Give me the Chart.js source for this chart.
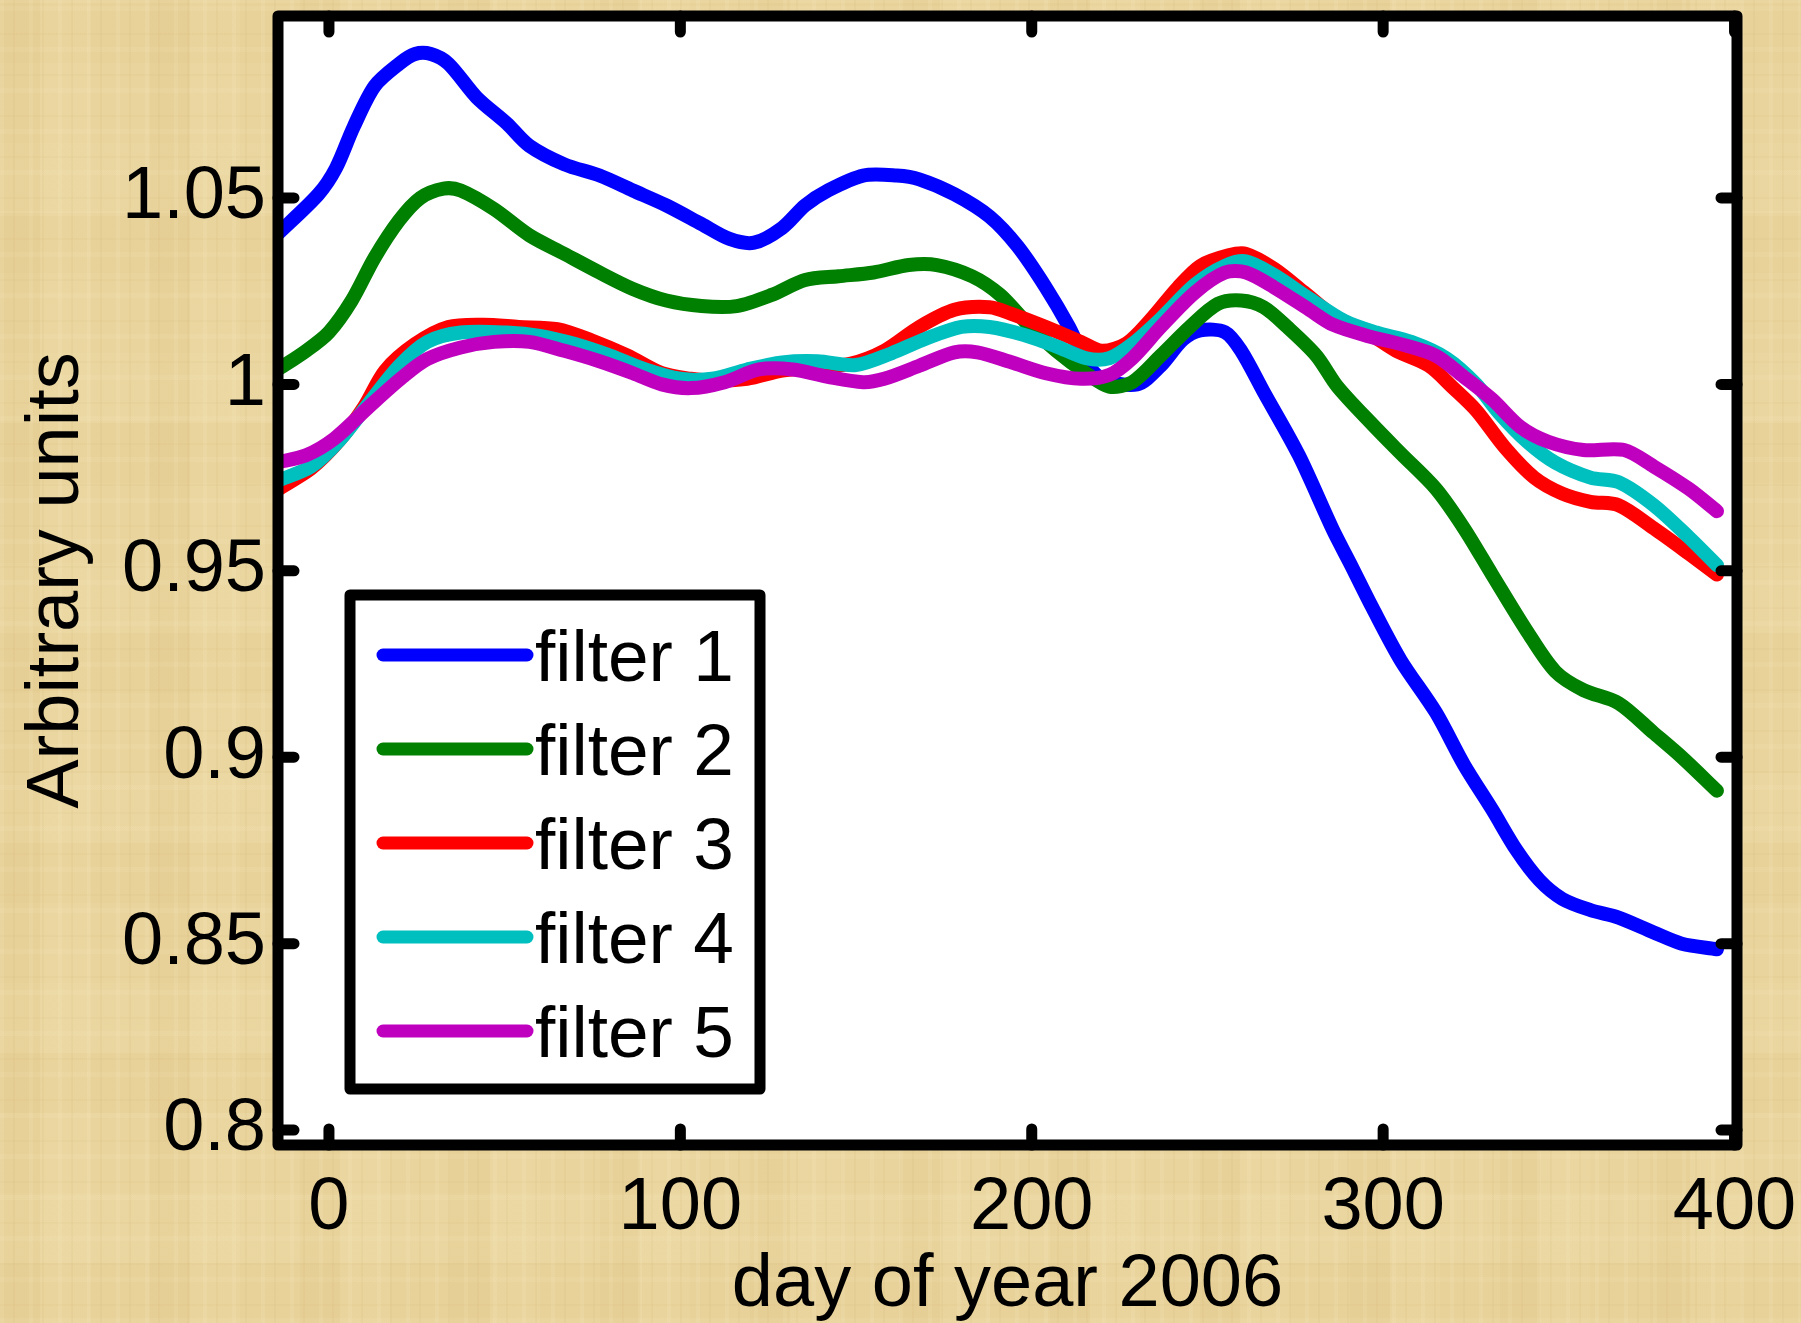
<!DOCTYPE html>
<html>
<head>
<meta charset="utf-8">
<script src="https://cdn.jsdelivr.net/npm/chart.js@4.4.1/dist/chart.umd.min.js"></script>
<style>
  html, body { margin: 0; padding: 0; }
  body {
    width: 1801px; height: 1323px; overflow: hidden;
    background-color: #E9D49D;
    background-image:
      repeating-linear-gradient(90deg, rgba(255,246,215,0.10) 0 4px, rgba(0,0,0,0) 4px 13px, rgba(170,130,50,0.05) 13px 15px, rgba(0,0,0,0) 15px 29px),
      repeating-linear-gradient(0deg, rgba(255,246,215,0.08) 0 5px, rgba(0,0,0,0) 5px 17px, rgba(170,130,50,0.04) 17px 19px, rgba(0,0,0,0) 19px 41px),
      repeating-linear-gradient(90deg, rgba(200,160,80,0.06) 0 40px, rgba(255,240,200,0.07) 40px 90px, rgba(0,0,0,0) 90px 150px),
      repeating-linear-gradient(0deg, rgba(210,170,90,0.05) 0 60px, rgba(255,240,200,0.06) 60px 130px, rgba(0,0,0,0) 130px 210px);
  }
  canvas { display: block; }
</style>
</head>
<body>
<canvas id="chart" width="1801" height="1323"></canvas>
<script>
// tick labels
const xTicks = [0, 100, 200, 300, 400];
const yTicks = [0.8, 0.85, 0.9, 0.95, 1, 1.05];

const seriesNames = ['filter 1', 'filter 2', 'filter 3', 'filter 4', 'filter 5'];
const seriesColors = ['#0000FF', '#008000', '#FF0000', '#00BFBF', '#BF00BF'];

// filter 1 (blue)
const filter1Days = [-15, -3, 2, 7, 13, 20, 24.5, 29, 34, 42, 50.6, 57, 67, 77, 86.5, 96, 106, 114, 121, 129, 135.5, 142, 152, 161.6, 168, 178, 188, 196, 204, 210.6, 215.5, 220, 230, 236.7, 243, 248, 255, 259.6, 266, 276, 285.7, 290.6, 297, 305, 315, 323, 331, 338, 344.5, 351, 359, 367, 377, 385, 395];
const filter1Values = [1.040, 1.051, 1.058, 1.069, 1.080, 1.086, 1.0886, 1.0886, 1.086, 1.077, 1.070, 1.064, 1.059, 1.056, 1.052, 1.048, 1.043, 1.039, 1.038, 1.042, 1.048, 1.052, 1.056, 1.056, 1.055, 1.051, 1.045, 1.037, 1.026, 1.0154, 1.006, 1.0015, 1.000, 1.005, 1.012, 1.0145, 1.014, 1.009, 0.998, 0.981, 0.961, 0.952, 0.940, 0.926, 0.912, 0.898, 0.886, 0.875, 0.867, 0.862, 0.859, 0.857, 0.853, 0.850, 0.8485];

// filter 2 (green)
const filter2Days = [-15, -6.5, 0, 6.5, 13, 20, 26, 32.6, 37.5, 47, 57, 67, 77, 86.5, 96, 106, 116, 126, 135.5, 145, 155, 165, 173, 183, 191, 199, 207, 215.5, 222, 228.6, 236.7, 245, 253, 259.6, 266, 272.7, 281, 287, 297, 305, 315, 323, 331, 341, 349, 357, 367, 377, 385, 395];
const filter2Values = [1.0037, 1.009, 1.014, 1.0225, 1.034, 1.044, 1.050, 1.0525, 1.052, 1.047, 1.040, 1.035, 1.030, 1.0256, 1.0225, 1.021, 1.021, 1.024, 1.028, 1.029, 1.030, 1.032, 1.032, 1.029, 1.024, 1.016, 1.009, 1.003, 0.9994, 1.0006, 1.0077, 1.0154, 1.0216, 1.0225, 1.0207, 1.0154, 1.0077, 0.9994, 0.9892, 0.9815, 0.972, 0.9614, 0.949, 0.9337, 0.923, 0.918, 0.9145, 0.9065, 0.900, 0.891];

// filter 3 (red)
const filter3Days = [-15, -5, 3, 10, 16, 24.5, 34, 44, 54, 65, 75, 85, 94.7, 103, 109, 119, 129, 139, 148.6, 158, 168, 178, 188, 194, 204, 214, 220, 227, 233.5, 241.6, 248, 256, 261, 269, 277.5, 285.7, 295.5, 303.7, 313, 320, 326.5, 334.7, 343, 351, 359, 367, 377, 387, 395];
const filter3Values = [0.9716, 0.9775, 0.985, 0.994, 1.0037, 1.0108, 1.0154, 1.016, 1.0154, 1.0148, 1.0117, 1.0077, 1.003, 1.0015, 1.001, 1.0015, 1.0037, 1.0046, 1.0056, 1.009, 1.0154, 1.020, 1.0207, 1.019, 1.0154, 1.0114, 1.009, 1.011, 1.017, 1.026, 1.0318, 1.0346, 1.035, 1.031, 1.0247, 1.0185, 1.0139, 1.009, 1.005, 0.999, 0.993, 0.983, 0.975, 0.9707, 0.9685, 0.9676, 0.9614, 0.9546, 0.949];

// filter 4 (cyan)
const filter4Days = [-15, -5, 3, 11.4, 20, 28, 37.5, 50.6, 60, 70, 80, 90, 100, 109, 119, 129, 139, 150, 160, 170, 180, 188, 197.6, 207, 215.5, 222, 228.6, 236.7, 246.5, 255, 261, 269, 279, 289, 298, 308, 318, 326.5, 333, 341, 349, 359, 367, 377, 387, 395];
const filter4Values = [0.974, 0.978, 0.985, 0.995, 1.005, 1.0114, 1.0139, 1.0139, 1.013, 1.0108, 1.0077, 1.004, 1.0015, 1.0015, 1.004, 1.0059, 1.0062, 1.0052, 1.0083, 1.0123, 1.0154, 1.0154, 1.0133, 1.0102, 1.007, 1.007, 1.0108, 1.0176, 1.0268, 1.0318, 1.033, 1.0293, 1.023, 1.017, 1.0139, 1.0114, 1.007, 1.000, 0.9923, 0.9846, 0.979, 0.975, 0.9738, 0.9676, 0.959, 0.9515];

// filter 5 (magenta)
const filter5Days = [-15, -6.5, 1.6, 11.4, 21, 28, 37.5, 47, 57, 67, 77, 86.5, 94.7, 103, 112.6, 122.4, 132, 142, 152, 158, 168, 178, 184.5, 194, 204, 214, 222, 228.6, 236.7, 246.5, 255, 261, 269, 279, 285.7, 295.5, 305, 315, 323, 331, 339, 347, 357, 368.6, 377, 387, 395];
const filter5Values = [0.979, 0.981, 0.9855, 0.994, 1.002, 1.0068, 1.0099, 1.0114, 1.0114, 1.009, 1.0062, 1.003, 1.000, 0.999, 1.0006, 1.004, 1.004, 1.002, 1.0006, 1.0015, 1.005, 1.0086, 1.0086, 1.006, 1.003, 1.0015, 1.0025, 1.007, 1.0154, 1.0247, 1.030, 1.030, 1.026, 1.020, 1.016, 1.013, 1.0108, 1.0077, 1.002, 0.996, 0.9886, 0.9846, 0.9824, 0.9824, 0.978, 0.972, 0.966];

const allDays = [filter1Days, filter2Days, filter3Days, filter4Days, filter5Days];
const allValues = [filter1Values, filter2Values, filter3Values, filter4Values, filter5Values];

const X_MIN = -14.5, X_MAX = 400.7;
const Y_MIN = 0.796, Y_MAX = 1.0988;

const FONT = '"Liberation Sans", Arial, sans-serif';
Chart.defaults.font.family = FONT;
Chart.defaults.color = '#000';

function _toPoints(days, values){
    let pts = [];
    for(let i = 0; i < days.length; i++){
        pts.push({x: days[i], y: values[i]});
    }
    return pts;
}

// white plot background
const plotBackground = {
    id: 'plotBackground',
    beforeDatasetsDraw(chart){
        const {ctx, chartArea: a} = chart;
        ctx.save();
        ctx.fillStyle = '#FFFFFF';
        ctx.fillRect(a.left, a.top, a.right - a.left, a.bottom - a.top);
        ctx.restore();
    }
};

// thick box with inward ticks on all four sides
const axesBox = {
    id: 'axesBox',
    afterDatasetsDraw(chart){
        const {ctx, chartArea: a, scales} = chart;
        const len = 16;
        ctx.save();
        ctx.strokeStyle = '#000';
        ctx.lineWidth = 11;
        ctx.lineCap = 'round';
        ctx.lineJoin = 'round';
        ctx.beginPath();
        scales.x.ticks.forEach(function(t){
            let px = scales.x.getPixelForValue(t.value);
            ctx.moveTo(px, a.bottom); ctx.lineTo(px, a.bottom - len);
            ctx.moveTo(px, a.top); ctx.lineTo(px, a.top + len);
        });
        scales.y.ticks.forEach(function(t){
            let py = scales.y.getPixelForValue(t.value);
            ctx.moveTo(a.left, py); ctx.lineTo(a.left + len, py);
            ctx.moveTo(a.right, py); ctx.lineTo(a.right - len, py);
        });
        ctx.stroke();
        ctx.strokeRect(a.left, a.top, a.right - a.left, a.bottom - a.top);
        ctx.restore();
    }
};

// matlab style legend box inside the axes
const boxLegend = {
    id: 'boxLegend',
    afterDraw(chart){
        const ctx = chart.ctx;
        const left = 350, top = 595, right = 760, bottom = 1089;
        const firstRow = 655, rowStep = 94;
        ctx.save();
        ctx.fillStyle = '#FFFFFF';
        ctx.fillRect(left, top, right - left, bottom - top);
        ctx.strokeStyle = '#000';
        ctx.lineWidth = 11;
        ctx.lineJoin = 'round';
        ctx.strokeRect(left, top, right - left, bottom - top);
        ctx.font = '73px ' + FONT;
        ctx.textBaseline = 'alphabetic';
        ctx.textAlign = 'left';
        chart.data.datasets.forEach(function(ds, i){
            let cy = firstRow + i * rowStep;
            ctx.strokeStyle = ds.borderColor;
            ctx.lineWidth = 13;
            ctx.lineCap = 'round';
            ctx.beginPath();
            ctx.moveTo(383, cy);
            ctx.lineTo(527, cy);
            ctx.stroke();
            ctx.fillStyle = '#000';
            ctx.fillText(ds.label, 535, cy + 26);
        });
        ctx.restore();
    }
};

function _drawChart(){
    let datasets = [];
    for(let i = 0; i < seriesNames.length; i++){
        datasets.push({
            label: seriesNames[i],
            data: _toPoints(allDays[i], allValues[i]),
            borderColor: seriesColors[i],
            backgroundColor: seriesColors[i],
            borderWidth: 14,
            pointRadius: 0,
            tension: 0.3,
            borderJoinStyle: 'round',
            borderCapStyle: 'round',
            fill: false,
            order: seriesNames.length - i
        });
    }

    new Chart(document.getElementById('chart').getContext('2d'), {
        type: 'line',
        data: { datasets: datasets },
        options: {
            responsive: false,
            animation: false,
            devicePixelRatio: 1,
            layout: { padding: { left: 0, right: 64, top: 16, bottom: 0 } },
            plugins: {
                legend: { display: false },
                tooltip: { enabled: false }
            },
            scales: {
                x: {
                    type: 'linear',
                    min: X_MIN,
                    max: X_MAX,
                    afterBuildTicks: function(s){ s.ticks = xTicks.map(v => ({value: v})); },
                    afterFit: function(s){ s.height = 178; s.paddingLeft = 0; s.paddingRight = 0; },
                    grid: { display: false, drawTicks: false },
                    border: { display: false },
                    ticks: { padding: 19, font: { size: 74 }, maxRotation: 0, color: '#000' },
                    title: { display: true, text: 'day of year 2006', font: { size: 74, lineHeight: 1 }, padding: 0, color: '#000' }
                },
                y: {
                    type: 'linear',
                    min: Y_MIN,
                    max: Y_MAX,
                    afterBuildTicks: function(s){ s.ticks = yTicks.map(v => ({value: v})); },
                    afterFit: function(s){ s.width = 278; s.paddingTop = 0; s.paddingBottom = 0; },
                    grid: { display: false, drawTicks: false },
                    border: { display: false },
                    ticks: { padding: 12, font: { size: 74 }, color: '#000', callback: v => String(v) },
                    title: { display: true, text: 'Arbitrary units', font: { size: 74, lineHeight: 1 }, padding: { top: 21, bottom: 0 }, color: '#000' }
                }
            }
        },
        plugins: [plotBackground, axesBox, boxLegend]
    });
}

window.onload = function(){
    _drawChart();
};
</script>
</body>
</html>
